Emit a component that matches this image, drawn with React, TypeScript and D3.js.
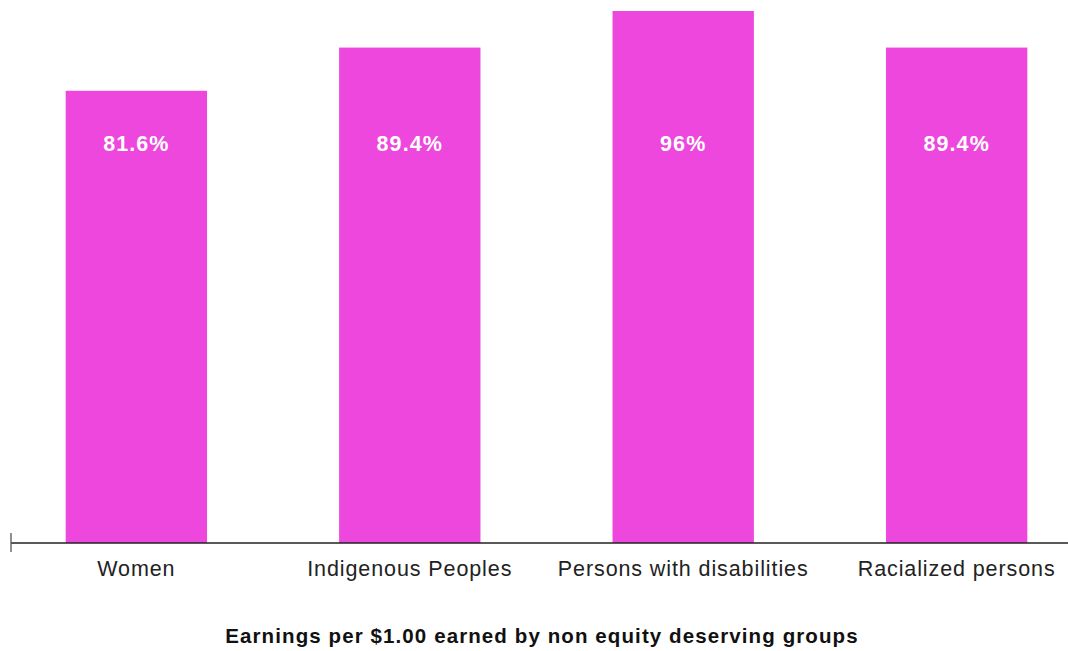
import React from "react";
import * as d3 from "d3";

const categories = ["Women", "Indigenous Peoples", "Persons with disabilities", "Racialized persons"];
const values = [81.6, 89.4, 96, 89.4];
const valueLabels = ["81.6%", "89.4%", "96%", "89.4%"];
const xTitle = "Earnings per $1.00 earned by non equity deserving groups";

const W = 1068;
const H = 651;
const FONT = "'Liberation Sans', Arial, Helvetica, sans-serif";
const BAR = "#ED47DD";

export default function App() {
  const baseY = 543;
  const x = d3.scaleBand<string>().domain(categories).range([11, 1082]).paddingInner(0.483).paddingOuter(0.2);
  const y = d3.scaleLinear().domain([0, 96]).range([baseY, 11]);
  return (
    <svg width={W} height={H} style={{ position: "absolute", left: 0, top: 0, background: "#fff" }}>
      {categories.map((c, i) => (
        <g key={c}>
          <rect x={x(c)} y={y(values[i])} width={x.bandwidth()} height={baseY - y(values[i])} fill={BAR} />
          <text x={(x(c) as number) + x.bandwidth() / 2} y={151} textAnchor="middle" fill="#fff" fontFamily={FONT} fontWeight="bold" fontSize={21.5} letterSpacing={1.1}>
            {valueLabels[i]}
          </text>
          <text x={(x(c) as number) + x.bandwidth() / 2} y={576} textAnchor="middle" fill="#222" fontFamily={FONT} fontSize={21.5} letterSpacing={0.9}>
            {c}
          </text>
        </g>
      ))}
      <line x1={11} x2={W} y1={baseY} y2={baseY} stroke="#222" strokeWidth={1.3} />
      <line x1={11} x2={11} y1={533} y2={552} stroke="#555" strokeWidth={1.3} />
      <text x={542} y={643} textAnchor="middle" fill="#111" fontFamily={FONT} fontWeight="bold" fontSize={20.5} letterSpacing={1.1}>
        {xTitle}
      </text>
    </svg>
  );
}
